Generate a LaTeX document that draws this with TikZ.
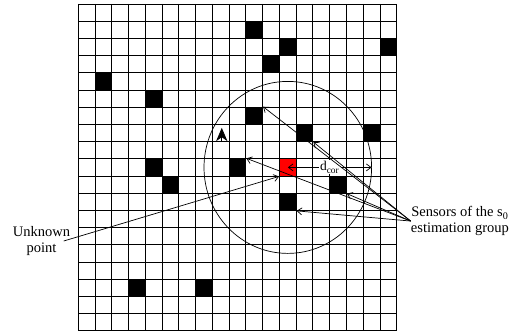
\documentclass[tikz,border=0pt]{standalone}
\usepackage{fontspec}
\setmainfont{Liberation Serif}
\usetikzlibrary{arrows.meta}

\begin{document}
\begin{tikzpicture}[x=0.5028cm, y=-0.516cm,
    >={Straight Barb[length=4pt,width=6pt]},
    gridline/.style={line width=0.8pt},
    sensor/.style={draw, fill=black, line width=0.8pt, minimum width=0.5028cm, minimum height=0.516cm, inner sep=0pt},
    pointer/.style={line width=0.6pt, ->},
    lbl/.style={font=\fontsize{12.4}{13}\selectfont, align=center, inner sep=0pt}]
    \useasboundingbox (-4.672,-0.2326) rectangle (25.817,19.186);

    % Draw the grid
    \foreach \i in {0,...,19} {
        \draw[gridline] (\i,0) -- (\i,19);
        \draw[gridline] (0,\i) -- (19,\i);
    }

    % Add sensors
    \foreach \c/\r [count=\n] in {10/1,12/2,18/2,11/3,1/4,4/5,10/6,13/7,17/7,4/9,9/9,5/10,15/10,12/11,3/16,7/16}
        \node[sensor] (s\n) at (\c+0.5,\r+0.5) {};

    % Estimated point and its circle
    \node[sensor, fill=red] (est) at (12.5,9.5) {};
    \draw[line width=0.6pt] (est.center) circle (5);

    % Correlation distance
    \coordinate (rim) at (17.5,9.5);
    \draw[line width=0.6pt, <->] (est.center) -- (rim)
        node[midway, fill=white, inner sep=1pt, font=\fontsize{11.5}{12}\selectfont] (dcor) {d\textsubscript{cor}};

    % Add labels
    \node[lbl] (sens) at (22.77,12.62) {Sensors of the s\textsubscript{0}\\estimation group};
    \node[lbl] (unk) at (-2.196,13.78) {Unknown\\point};

    % Connect labels
    \foreach \t in {s7.north east, s8.south east, s11.north east, s13.south east, s14.south east}
        \draw[pointer] (sens.west) -- (\t);
    \draw[pointer] ([xshift=-0.2cm]unk.east) -- (est.south west);

    % Small arrow
    \coordinate (tipA) at (8.56,8.02);
    \draw[line width=0.6pt, -{Stealth[length=0.4cm,width=0.34cm,inset=0.12cm]}] (tipA) -- ++(0,-0.82);
\end{tikzpicture}
\end{document}
